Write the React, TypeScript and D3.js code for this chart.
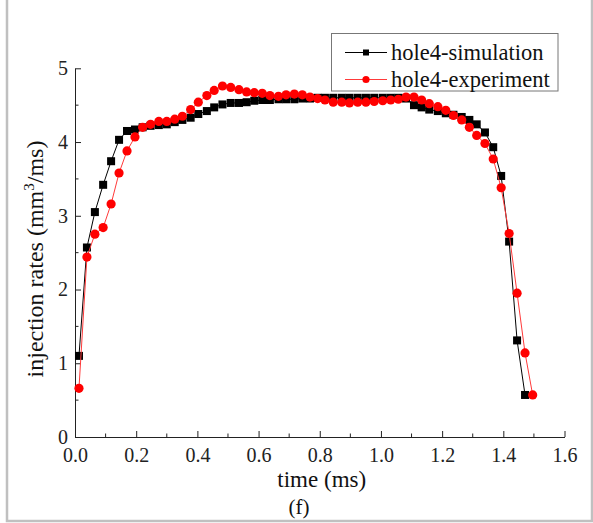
import { useEffect, useRef } from "react";
import * as d3 from "d3";

// time (ms) of each sample
const simTime = [
  0.013, 0.039, 0.065, 0.092, 0.118, 0.144, 0.17, 0.196, 0.221, 0.247,
  0.274, 0.3, 0.326, 0.351, 0.378, 0.403, 0.431, 0.455, 0.482, 0.509,
  0.536, 0.561, 0.586, 0.612, 0.637, 0.665, 0.69, 0.717, 0.743, 0.768,
  0.793, 0.817, 0.844, 0.872, 0.897, 0.924, 0.951, 0.978, 1.006, 1.032,
  1.057, 1.082, 1.108, 1.133, 1.158, 1.186, 1.212, 1.237, 1.264, 1.289,
  1.313, 1.34, 1.367, 1.393, 1.419, 1.445, 1.471,
];
const simRate = [
  1.1, 2.57, 3.05, 3.42, 3.74, 4.03, 4.15, 4.17, 4.2, 4.22,
  4.23, 4.24, 4.27, 4.3, 4.33, 4.38, 4.42, 4.47, 4.51, 4.53,
  4.53, 4.54, 4.56, 4.57, 4.57, 4.58, 4.58, 4.58, 4.59, 4.59,
  4.6, 4.6, 4.6, 4.6, 4.6, 4.6, 4.6, 4.6, 4.6, 4.6,
  4.6, 4.59, 4.5, 4.47, 4.44, 4.42, 4.39, 4.37, 4.34, 4.3,
  4.24, 4.13, 3.93, 3.54, 2.65, 1.31, 0.57,
];
const expTime = [
  0.013, 0.039, 0.065, 0.092, 0.118, 0.144, 0.17, 0.196, 0.221, 0.247,
  0.274, 0.3, 0.326, 0.351, 0.378, 0.403, 0.431, 0.455, 0.482, 0.509,
  0.536, 0.561, 0.586, 0.612, 0.637, 0.665, 0.69, 0.717, 0.743, 0.768,
  0.793, 0.817, 0.844, 0.872, 0.897, 0.924, 0.951, 0.978, 1.006, 1.032,
  1.057, 1.082, 1.108, 1.133, 1.158, 1.186, 1.212, 1.237, 1.264, 1.289,
  1.313, 1.34, 1.367, 1.393, 1.419, 1.445, 1.471, 1.496,
];
const expRate = [
  0.66, 2.44, 2.75, 2.84, 3.16, 3.58, 3.88, 4.07, 4.2, 4.24,
  4.28, 4.28, 4.31, 4.35, 4.44, 4.54, 4.63, 4.7, 4.76, 4.74,
  4.71, 4.68, 4.67, 4.66, 4.63, 4.62, 4.64, 4.65, 4.64, 4.61,
  4.59, 4.57, 4.54, 4.54, 4.53, 4.54, 4.54, 4.55, 4.56, 4.57,
  4.58, 4.61, 4.61, 4.57, 4.52, 4.48, 4.43, 4.36, 4.3, 4.2,
  4.09, 3.98, 3.77, 3.38, 2.76, 1.95, 1.14, 0.57,
];

const xTicks = [0, 0.2, 0.4, 0.6, 0.8, 1.0, 1.2, 1.4, 1.6];
const yTicks = [0, 1, 2, 3, 4, 5];
const seriesNames = ["hole4-simulation", "hole4-experiment"];

const W = 593;
const H = 523;
const FONT = "'Liberation Serif', 'Times New Roman', serif";

export default function App() {
  const ref = useRef<SVGSVGElement>(null);

  useEffect(() => {
    const svg = d3.select(ref.current);
    svg.selectAll("*").remove();

    const left = 75;
    const right = 564.5;
    const top = 68.3;
    const bottom = 437;

    const x = d3.scaleLinear().domain([0, 1.6]).range([left, right]);
    const y = d3.scaleLinear().domain([0, 5]).range([bottom, top]);

    // outer frame of the figure panel
    svg
      .append("rect")
      .attr("x", 7)
      .attr("y", -5)
      .attr("width", 585)
      .attr("height", 526)
      .attr("fill", "white")
      .attr("stroke", "#c0c0c0")
      .attr("stroke-width", 2.5);

    // axes
    const xAxis = svg
      .append("g")
      .attr("transform", `translate(0,${bottom})`)
      .call(
        d3
          .axisBottom(x)
          .tickValues(xTicks)
          .tickSize(-6)
          .tickSizeOuter(0)
          .tickFormat(d3.format(".1f"))
      );
    xAxis.select(".domain").attr("stroke", "#222");
    xAxis.selectAll(".tick line").attr("stroke", "#222");
    xAxis
      .selectAll(".tick text")
      .attr("y", 11)
      .attr("dy", "0.71em")
      .attr("font-family", FONT)
      .attr("font-size", 20)
      .attr("fill", "#222");
    xAxis
      .selectAll(".minor")
      .data(d3.range(0.1, 1.6, 0.2))
      .enter()
      .append("line")
      .attr("x1", (d) => x(d))
      .attr("x2", (d) => x(d))
      .attr("y1", 0)
      .attr("y2", -3.5)
      .attr("stroke", "#222");

    const yAxis = svg
      .append("g")
      .attr("transform", `translate(${left},0)`)
      .call(
        d3
          .axisLeft(y)
          .tickValues(yTicks)
          .tickSize(-6)
          .tickSizeOuter(0)
          .tickFormat(d3.format("d"))
      );
    yAxis.select(".domain").attr("stroke", "#222");
    yAxis.selectAll(".tick line").attr("stroke", "#222");
    yAxis
      .selectAll(".tick text")
      .attr("x", -7)
      .attr("font-family", FONT)
      .attr("font-size", 20)
      .attr("fill", "#222");
    yAxis
      .selectAll(".minor")
      .data(d3.range(0.5, 5, 1))
      .enter()
      .append("line")
      .attr("y1", (d) => y(d))
      .attr("y2", (d) => y(d))
      .attr("x1", 0)
      .attr("x2", 3.5)
      .attr("stroke", "#222");

    // axis titles
    svg
      .append("text")
      .attr("x", (left + right) / 2 + 2)
      .attr("y", 487)
      .attr("text-anchor", "middle")
      .attr("font-family", FONT)
      .attr("font-size", 23)
      .attr("fill", "#111")
      .text("time (ms)");
    svg
      .append("text")
      .attr("x", 299)
      .attr("y", 514)
      .attr("text-anchor", "middle")
      .attr("font-family", FONT)
      .attr("font-size", 21)
      .attr("fill", "#111")
      .text("(f)");

    const yt = svg
      .append("text")
      .attr("transform", `translate(43,259) rotate(-90)`)
      .attr("text-anchor", "middle")
      .attr("font-family", FONT)
      .attr("font-size", 24)
      .attr("fill", "#111");
    yt.append("tspan").text("injection rates (mm");
    yt.append("tspan").attr("font-size", 15).attr("dy", -9).text("3");
    yt.append("tspan").attr("dy", 9).text("/ms)");

    // series
    const simData = simTime.map((t, i) => [t, simRate[i]] as [number, number]);
    const expData = expTime.map((t, i) => [t, expRate[i]] as [number, number]);
    const line = d3
      .line<[number, number]>()
      .x((d) => x(d[0]))
      .y((d) => y(d[1]));

    svg
      .append("path")
      .attr("d", line(simData))
      .attr("fill", "none")
      .attr("stroke", "#000")
      .attr("stroke-width", 1);
    svg
      .append("g")
      .selectAll("rect")
      .data(simData)
      .enter()
      .append("rect")
      .attr("x", (d) => x(d[0]) - 4)
      .attr("y", (d) => y(d[1]) - 4)
      .attr("width", 8)
      .attr("height", 8)
      .attr("fill", "#000");

    svg
      .append("path")
      .attr("d", line(expData))
      .attr("fill", "none")
      .attr("stroke", "#ff3a3a")
      .attr("stroke-width", 1);
    svg
      .append("g")
      .selectAll("circle")
      .data(expData)
      .enter()
      .append("circle")
      .attr("cx", (d) => x(d[0]))
      .attr("cy", (d) => y(d[1]))
      .attr("r", 4.6)
      .attr("fill", "#ff0000");

    // legend
    const lg = svg.append("g");
    lg.append("rect")
      .attr("x", 331.5)
      .attr("y", 33.5)
      .attr("width", 226.5)
      .attr("height", 57.5)
      .attr("fill", "white")
      .attr("stroke", "#777")
      .attr("stroke-width", 1);
    const rows = [
      { name: seriesNames[0], color: "#000", stroke: "#000", sq: true, cy: 52.5 },
      { name: seriesNames[1], color: "#ff0000", stroke: "#ff3a3a", sq: false, cy: 79.5 },
    ];
    rows.forEach((r) => {
      lg.append("line")
        .attr("x1", 345)
        .attr("x2", 387)
        .attr("y1", r.cy)
        .attr("y2", r.cy)
        .attr("stroke", r.stroke)
        .attr("stroke-width", 1);
      if (r.sq) {
        lg.append("rect")
          .attr("x", 363)
          .attr("y", r.cy - 3)
          .attr("width", 6)
          .attr("height", 6)
          .attr("fill", r.color);
      } else {
        lg.append("circle")
          .attr("cx", 366)
          .attr("cy", r.cy)
          .attr("r", 3.6)
          .attr("fill", r.color);
      }
      lg.append("text")
        .attr("x", 391)
        .attr("y", r.cy + 7)
        .attr("font-family", FONT)
        .attr("font-size", 22.5)
        .attr("fill", "#111")
        .text(r.name);
    });
  }, []);

  return (
    <svg
      ref={ref}
      width={W}
      height={H}
      style={{ position: "absolute", left: 0, top: 0, background: "white" }}
    />
  );
}
